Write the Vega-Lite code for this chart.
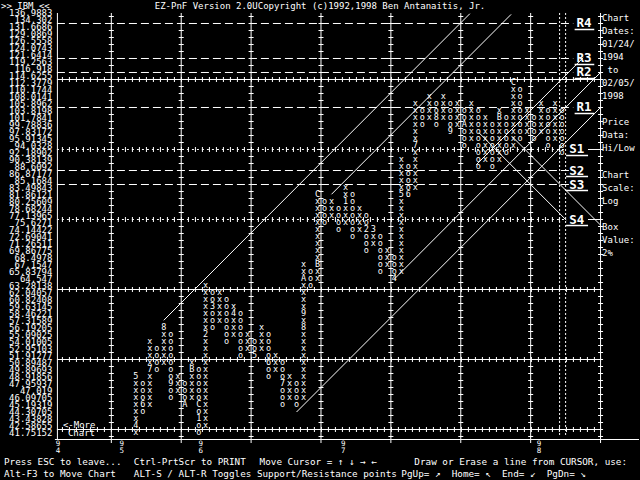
{
"$schema":"https://vega.github.io/schema/vega-lite/v6.json",
"width":640,"height":480,"padding":0,
"autosize":{"type":"fit","contains":"padding"},
"background":"#000000",
"config":{"view":{"stroke":null}},
"datasets":{
"cells":[
{"c":3,"b":0,"t":"x"},{"c":3,"b":1,"t":"4"},{"c":3,"b":2,"t":"x"},{"c":3,"b":3,"t":"x"},{"c":3,"b":4,"t":"x"},{"c":3,"b":5,"t":"x"},{"c":3,"b":6,"t":"x"},{"c":3,"b":7,"t":"x"},{"c":3,"b":8,"t":"5"},
{"c":4,"b":3,"t":"o"},{"c":4,"b":4,"t":"6"},{"c":4,"b":5,"t":"o"},{"c":4,"b":6,"t":"o"},{"c":4,"b":7,"t":"o"},
{"c":5,"b":4,"t":"x"},{"c":5,"b":5,"t":"x"},{"c":5,"b":6,"t":"x"},{"c":5,"b":7,"t":"x"},{"c":5,"b":8,"t":"x"},{"c":5,"b":9,"t":"7"},{"c":5,"b":10,"t":"x"},{"c":5,"b":11,"t":"x"},{"c":5,"b":12,"t":"x"},{"c":5,"b":13,"t":"x"},
{"c":6,"b":9,"t":"o"},{"c":6,"b":10,"t":"o"},{"c":6,"b":11,"t":"o"},{"c":6,"b":12,"t":"o"},
{"c":7,"b":10,"t":"x"},{"c":7,"b":11,"t":"x"},{"c":7,"b":12,"t":"x"},{"c":7,"b":13,"t":"x"},{"c":7,"b":14,"t":"x"},{"c":7,"b":15,"t":"8"},
{"c":8,"b":5,"t":"o"},{"c":8,"b":6,"t":"o"},{"c":8,"b":7,"t":"9"},{"c":8,"b":8,"t":"o"},{"c":8,"b":9,"t":"o"},{"c":8,"b":10,"t":"o"},{"c":8,"b":11,"t":"o"},{"c":8,"b":12,"t":"o"},{"c":8,"b":13,"t":"o"},{"c":8,"b":14,"t":"o"},
{"c":9,"b":6,"t":"x"},{"c":9,"b":7,"t":"x"},{"c":9,"b":8,"t":"x"},
{"c":10,"b":4,"t":"A"},{"c":10,"b":5,"t":"o"},{"c":10,"b":6,"t":"o"},{"c":10,"b":7,"t":"o"},
{"c":11,"b":5,"t":"x"},{"c":11,"b":6,"t":"x"},{"c":11,"b":7,"t":"x"},{"c":11,"b":8,"t":"x"},{"c":11,"b":9,"t":"B"},{"c":11,"b":10,"t":"x"},
{"c":12,"b":0,"t":"o"},{"c":12,"b":1,"t":"o"},{"c":12,"b":2,"t":"1"},{"c":12,"b":3,"t":"o"},{"c":12,"b":4,"t":"C"},{"c":12,"b":5,"t":"o"},{"c":12,"b":6,"t":"o"},{"c":12,"b":7,"t":"o"},{"c":12,"b":8,"t":"o"},{"c":12,"b":9,"t":"o"},
{"c":13,"b":1,"t":"x"},{"c":13,"b":2,"t":"x"},{"c":13,"b":3,"t":"x"},{"c":13,"b":4,"t":"x"},{"c":13,"b":5,"t":"x"},{"c":13,"b":6,"t":"x"},{"c":13,"b":7,"t":"x"},{"c":13,"b":8,"t":"x"},{"c":13,"b":9,"t":"x"},{"c":13,"b":10,"t":"x"},{"c":13,"b":11,"t":"x"},{"c":13,"b":12,"t":"x"},{"c":13,"b":13,"t":"x"},{"c":13,"b":14,"t":"2"},{"c":13,"b":15,"t":"x"},{"c":13,"b":16,"t":"x"},{"c":13,"b":17,"t":"x"},{"c":13,"b":18,"t":"x"},{"c":13,"b":19,"t":"x"},{"c":13,"b":20,"t":"x"},{"c":13,"b":21,"t":"x"},
{"c":14,"b":15,"t":"o"},{"c":14,"b":16,"t":"o"},{"c":14,"b":17,"t":"o"},{"c":14,"b":18,"t":"3"},{"c":14,"b":19,"t":"o"},{"c":14,"b":20,"t":"o"},
{"c":15,"b":16,"t":"x"},{"c":15,"b":17,"t":"x"},{"c":15,"b":18,"t":"x"},{"c":15,"b":19,"t":"x"},{"c":15,"b":20,"t":"x"},
{"c":16,"b":13,"t":"o"},{"c":16,"b":14,"t":"o"},{"c":16,"b":15,"t":"o"},{"c":16,"b":16,"t":"o"},{"c":16,"b":17,"t":"o"},{"c":16,"b":18,"t":"o"},{"c":16,"b":19,"t":"o"},
{"c":17,"b":14,"t":"x"},{"c":17,"b":15,"t":"x"},{"c":17,"b":16,"t":"x"},{"c":17,"b":17,"t":"4"},{"c":17,"b":18,"t":"x"},
{"c":18,"b":11,"t":"o"},{"c":18,"b":12,"t":"o"},{"c":18,"b":13,"t":"o"},{"c":18,"b":14,"t":"o"},{"c":18,"b":15,"t":"o"},{"c":18,"b":16,"t":"o"},{"c":18,"b":17,"t":"o"},
{"c":19,"b":12,"t":"x"},{"c":19,"b":13,"t":"x"},{"c":19,"b":14,"t":"x"},
{"c":20,"b":11,"t":"5"},{"c":20,"b":12,"t":"o"},{"c":20,"b":13,"t":"o"},
{"c":21,"b":12,"t":"x"},{"c":21,"b":13,"t":"x"},{"c":21,"b":14,"t":"x"},{"c":21,"b":15,"t":"x"},
{"c":22,"b":8,"t":"o"},{"c":22,"b":9,"t":"o"},{"c":22,"b":10,"t":"6"},{"c":22,"b":11,"t":"o"},{"c":22,"b":12,"t":"o"},{"c":22,"b":13,"t":"o"},{"c":22,"b":14,"t":"o"},
{"c":23,"b":9,"t":"x"},{"c":23,"b":10,"t":"x"},{"c":23,"b":11,"t":"x"},
{"c":24,"b":4,"t":"o"},{"c":24,"b":5,"t":"o"},{"c":24,"b":6,"t":"o"},{"c":24,"b":7,"t":"7"},{"c":24,"b":8,"t":"o"},{"c":24,"b":9,"t":"o"},{"c":24,"b":10,"t":"o"},
{"c":25,"b":5,"t":"x"},{"c":25,"b":6,"t":"x"},{"c":25,"b":7,"t":"x"},{"c":25,"b":8,"t":"x"},
{"c":26,"b":4,"t":"o"},{"c":26,"b":5,"t":"o"},{"c":26,"b":6,"t":"o"},{"c":26,"b":7,"t":"o"},
{"c":27,"b":5,"t":"x"},{"c":27,"b":6,"t":"x"},{"c":27,"b":7,"t":"x"},{"c":27,"b":8,"t":"x"},{"c":27,"b":9,"t":"x"},{"c":27,"b":10,"t":"x"},{"c":27,"b":11,"t":"x"},{"c":27,"b":12,"t":"x"},{"c":27,"b":13,"t":"x"},{"c":27,"b":14,"t":"x"},{"c":27,"b":15,"t":"8"},{"c":27,"b":16,"t":"x"},{"c":27,"b":17,"t":"9"},{"c":27,"b":18,"t":"x"},{"c":27,"b":19,"t":"x"},{"c":27,"b":20,"t":"x"},{"c":27,"b":21,"t":"x"},{"c":27,"b":22,"t":"A"},{"c":27,"b":23,"t":"x"},{"c":27,"b":24,"t":"x"},
{"c":28,"b":21,"t":"o"},{"c":28,"b":22,"t":"o"},{"c":28,"b":23,"t":"o"},
{"c":29,"b":22,"t":"x"},{"c":29,"b":23,"t":"x"},{"c":29,"b":24,"t":"B"},{"c":29,"b":25,"t":"x"},{"c":29,"b":26,"t":"x"},{"c":29,"b":27,"t":"x"},{"c":29,"b":28,"t":"x"},{"c":29,"b":29,"t":"x"},{"c":29,"b":30,"t":"x"},{"c":29,"b":31,"t":"x"},{"c":29,"b":32,"t":"x"},{"c":29,"b":33,"t":"x"},{"c":29,"b":34,"t":"C"},
{"c":30,"b":30,"t":"o"},{"c":30,"b":31,"t":"o"},{"c":30,"b":32,"t":"o"},{"c":30,"b":33,"t":"o"},
{"c":31,"b":31,"t":"x"},{"c":31,"b":32,"t":"x"},{"c":31,"b":33,"t":"x"},
{"c":32,"b":29,"t":"o"},{"c":32,"b":30,"t":"o"},{"c":32,"b":31,"t":"o"},{"c":32,"b":32,"t":"o"},
{"c":33,"b":30,"t":"x"},{"c":33,"b":31,"t":"x"},{"c":33,"b":32,"t":"x"},{"c":33,"b":33,"t":"1"},{"c":33,"b":34,"t":"x"},{"c":33,"b":35,"t":"x"},
{"c":34,"b":28,"t":"o"},{"c":34,"b":29,"t":"o"},{"c":34,"b":30,"t":"o"},{"c":34,"b":31,"t":"o"},{"c":34,"b":32,"t":"o"},{"c":34,"b":33,"t":"o"},{"c":34,"b":34,"t":"o"},
{"c":35,"b":29,"t":"x"},{"c":35,"b":30,"t":"x"},{"c":35,"b":31,"t":"x"},{"c":35,"b":32,"t":"x"},
{"c":36,"b":26,"t":"o"},{"c":36,"b":27,"t":"o"},{"c":36,"b":28,"t":"o"},{"c":36,"b":29,"t":"2"},{"c":36,"b":30,"t":"o"},{"c":36,"b":31,"t":"o"},
{"c":37,"b":27,"t":"x"},{"c":37,"b":28,"t":"x"},{"c":37,"b":29,"t":"3"},
{"c":38,"b":23,"t":"o"},{"c":38,"b":24,"t":"o"},{"c":38,"b":25,"t":"o"},{"c":38,"b":26,"t":"o"},{"c":38,"b":27,"t":"o"},{"c":38,"b":28,"t":"o"},
{"c":39,"b":24,"t":"x"},{"c":39,"b":25,"t":"x"},{"c":39,"b":26,"t":"x"},
{"c":40,"b":22,"t":"4"},{"c":40,"b":23,"t":"o"},{"c":40,"b":24,"t":"o"},{"c":40,"b":25,"t":"o"},
{"c":41,"b":23,"t":"x"},{"c":41,"b":24,"t":"x"},{"c":41,"b":25,"t":"x"},{"c":41,"b":26,"t":"x"},{"c":41,"b":27,"t":"x"},{"c":41,"b":28,"t":"x"},{"c":41,"b":29,"t":"x"},{"c":41,"b":30,"t":"x"},{"c":41,"b":31,"t":"x"},{"c":41,"b":32,"t":"x"},{"c":41,"b":33,"t":"x"},{"c":41,"b":34,"t":"5"},{"c":41,"b":35,"t":"x"},{"c":41,"b":36,"t":"x"},{"c":41,"b":37,"t":"x"},{"c":41,"b":38,"t":"x"},{"c":41,"b":39,"t":"x"},
{"c":42,"b":34,"t":"6"},{"c":42,"b":35,"t":"o"},{"c":42,"b":36,"t":"o"},{"c":42,"b":37,"t":"o"},{"c":42,"b":38,"t":"o"},
{"c":43,"b":35,"t":"x"},{"c":43,"b":36,"t":"x"},{"c":43,"b":37,"t":"x"},{"c":43,"b":38,"t":"x"},{"c":43,"b":39,"t":"x"},{"c":43,"b":40,"t":"x"},{"c":43,"b":41,"t":"7"},{"c":43,"b":42,"t":"x"},{"c":43,"b":43,"t":"x"},{"c":43,"b":44,"t":"x"},{"c":43,"b":45,"t":"x"},{"c":43,"b":46,"t":"x"},{"c":43,"b":47,"t":"x"},
{"c":44,"b":44,"t":"o"},{"c":44,"b":45,"t":"o"},{"c":44,"b":46,"t":"o"},
{"c":45,"b":45,"t":"x"},{"c":45,"b":46,"t":"x"},{"c":45,"b":47,"t":"x"},{"c":45,"b":48,"t":"x"},
{"c":46,"b":44,"t":"o"},{"c":46,"b":45,"t":"8"},{"c":46,"b":46,"t":"o"},{"c":46,"b":47,"t":"o"},
{"c":47,"b":45,"t":"x"},{"c":47,"b":46,"t":"x"},{"c":47,"b":47,"t":"x"},{"c":47,"b":48,"t":"x"},
{"c":48,"b":43,"t":"9"},{"c":48,"b":44,"t":"o"},{"c":48,"b":45,"t":"o"},{"c":48,"b":46,"t":"o"},{"c":48,"b":47,"t":"o"},
{"c":49,"b":44,"t":"x"},{"c":49,"b":45,"t":"x"},{"c":49,"b":46,"t":"x"},{"c":49,"b":47,"t":"x"},
{"c":50,"b":41,"t":"o"},{"c":50,"b":42,"t":"o"},{"c":50,"b":43,"t":"o"},{"c":50,"b":44,"t":"A"},{"c":50,"b":45,"t":"o"},{"c":50,"b":46,"t":"o"},
{"c":51,"b":42,"t":"x"},{"c":51,"b":43,"t":"x"},{"c":51,"b":44,"t":"x"},{"c":51,"b":45,"t":"x"},{"c":51,"b":46,"t":"x"},{"c":51,"b":47,"t":"x"},
{"c":52,"b":38,"t":"o"},{"c":52,"b":39,"t":"o"},{"c":52,"b":40,"t":"o"},{"c":52,"b":41,"t":"o"},{"c":52,"b":42,"t":"o"},{"c":52,"b":43,"t":"o"},{"c":52,"b":44,"t":"o"},{"c":52,"b":45,"t":"o"},{"c":52,"b":46,"t":"o"},
{"c":53,"b":39,"t":"x"},{"c":53,"b":40,"t":"x"},{"c":53,"b":41,"t":"x"},{"c":53,"b":42,"t":"x"},{"c":53,"b":43,"t":"x"},{"c":53,"b":44,"t":"x"},{"c":53,"b":45,"t":"x"},
{"c":54,"b":38,"t":"o"},{"c":54,"b":39,"t":"o"},{"c":54,"b":40,"t":"o"},{"c":54,"b":41,"t":"o"},{"c":54,"b":42,"t":"o"},{"c":54,"b":43,"t":"o"},{"c":54,"b":44,"t":"o"},
{"c":55,"b":39,"t":"x"},{"c":55,"b":40,"t":"x"},{"c":55,"b":41,"t":"x"},{"c":55,"b":42,"t":"x"},{"c":55,"b":43,"t":"x"},{"c":55,"b":44,"t":"x"},{"c":55,"b":45,"t":"B"},{"c":55,"b":46,"t":"x"},
{"c":56,"b":40,"t":"o"},{"c":56,"b":41,"t":"o"},{"c":56,"b":42,"t":"o"},{"c":56,"b":43,"t":"o"},{"c":56,"b":44,"t":"o"},{"c":56,"b":45,"t":"o"},
{"c":57,"b":41,"t":"x"},{"c":57,"b":42,"t":"x"},{"c":57,"b":43,"t":"x"},{"c":57,"b":44,"t":"x"},{"c":57,"b":45,"t":"x"},{"c":57,"b":46,"t":"x"},{"c":57,"b":47,"t":"x"},{"c":57,"b":48,"t":"x"},{"c":57,"b":49,"t":"x"},{"c":57,"b":50,"t":"C"},
{"c":58,"b":42,"t":"o"},{"c":58,"b":43,"t":"o"},{"c":58,"b":44,"t":"o"},{"c":58,"b":45,"t":"o"},{"c":58,"b":46,"t":"o"},{"c":58,"b":47,"t":"o"},{"c":58,"b":48,"t":"o"},{"c":58,"b":49,"t":"o"},
{"c":59,"b":43,"t":"x"},{"c":59,"b":44,"t":"x"},{"c":59,"b":45,"t":"x"},{"c":59,"b":46,"t":"x"},
{"c":60,"b":42,"t":"o"},{"c":60,"b":43,"t":"o"},{"c":60,"b":44,"t":"o"},{"c":60,"b":45,"t":"o"},
{"c":61,"b":43,"t":"x"},{"c":61,"b":44,"t":"x"},{"c":61,"b":45,"t":"x"},{"c":61,"b":46,"t":"x"},{"c":61,"b":47,"t":"x"},
{"c":62,"b":41,"t":"o"},{"c":62,"b":42,"t":"o"},{"c":62,"b":43,"t":"o"},{"c":62,"b":44,"t":"o"},{"c":62,"b":45,"t":"o"},{"c":62,"b":46,"t":"o"},
{"c":63,"b":42,"t":"x"},{"c":63,"b":43,"t":"x"},{"c":63,"b":44,"t":"x"},{"c":63,"b":45,"t":"x"},{"c":63,"b":46,"t":"x"},{"c":63,"b":47,"t":"x"},
{"c":64,"b":40,"t":"o"},{"c":64,"b":41,"t":"o"},{"c":64,"b":42,"t":"o"},{"c":64,"b":43,"t":"o"},{"c":64,"b":44,"t":"o"},{"c":64,"b":45,"t":"o"},{"c":64,"b":46,"t":"o"}
],
"labels":[
{"b":60,"t":"136.9883"},{"b":59,"t":"134.302"},{"b":58,"t":"131.6686"},{"b":57,"t":"129.0869"},{"b":56,"t":"126.5558"},{"b":55,"t":"124.0743"},{"b":54,"t":"121.6414"},{"b":53,"t":"119.2563"},{"b":52,"t":"116.918"},{"b":51,"t":"114.6255"},{"b":50,"t":"112.3779"},{"b":49,"t":"110.1744"},{"b":48,"t":"108.0141"},{"b":47,"t":"105.8962"},{"b":46,"t":"103.8198"},{"b":45,"t":"101.7841"},{"b":44,"t":"99.78836"},{"b":43,"t":"97.83172"},{"b":42,"t":"95.91345"},{"b":41,"t":"94.0328"},{"b":40,"t":"92.18902"},{"b":39,"t":"90.38139"},{"b":38,"t":"88.6092"},{"b":37,"t":"86.87177"},{"b":36,"t":"85.1684"},{"b":35,"t":"83.49843"},{"b":34,"t":"81.86121"},{"b":33,"t":"80.25609"},{"b":32,"t":"78.68244"},{"b":31,"t":"77.13965"},{"b":30,"t":"75.6271"},{"b":29,"t":"74.14422"},{"b":28,"t":"72.69041"},{"b":27,"t":"71.26511"},{"b":26,"t":"69.86775"},{"b":25,"t":"68.4978"},{"b":24,"t":"67.1547"},{"b":23,"t":"65.83794"},{"b":22,"t":"64.547"},{"b":21,"t":"63.28138"},{"b":20,"t":"62.04057"},{"b":19,"t":"60.82408"},{"b":18,"t":"59.63145"},{"b":17,"t":"58.46221"},{"b":16,"t":"57.31589"},{"b":15,"t":"56.19205"},{"b":14,"t":"55.09025"},{"b":13,"t":"54.01005"},{"b":12,"t":"52.95103"},{"b":11,"t":"51.91277"},{"b":10,"t":"50.89487"},{"b":9,"t":"49.89693"},{"b":8,"t":"48.91856"},{"b":7,"t":"47.95937"},{"b":6,"t":"47.019"},{"b":5,"t":"46.09705"},{"b":4,"t":"45.19319"},{"b":3,"t":"44.30705"},{"b":2,"t":"43.43828"},{"b":1,"t":"42.58655"},{"b":0,"t":"41.75152"}
],
"vgrid":[{"c":-0.5},{"c":9.5},{"c":19.5},{"c":29.5},{"c":39.5},{"c":49.5},{"c":59.5},{"c":69.5}],
"hgrid":[{"b":0.5},{"b":10.5},{"b":20.5},{"b":50.5}],
"sgrid":[{"b":30.5},{"b":40.5}],
"sr":[{"n":"R4","b":58.5,"k":"R"},{"n":"R3","b":53.5,"k":"R"},{"n":"R2","b":51.5,"k":"R"},{"n":"R1","b":46.5,"k":"R"},{"n":"S1","b":40.5,"k":"S"},{"n":"S2","b":37.5,"k":"S"},{"n":"S3","b":35.5,"k":"S"},{"n":"S4","b":30.5,"k":"S"}],
"trend":[{"c":7,"b":16.1,"c2":50.8,"b2":59.9},{"c":31,"b":34.1,"c2":56.7,"b2":59.8},{"c":26,"b":3,"c2":69.5,"b2":46.5},{"c":40,"b":22,"c2":69.5,"b2":51.5},{"c":51.7,"b":38.3,"c2":67,"b2":53.6},{"c":52.1,"b":42.9,"c2":64.6,"b2":30.4},{"c":56.9,"b":42.3,"c2":69.5,"b2":29.7}],
"years":[{"c":-8.14,"t":"9\n4"},{"c":1,"t":"9\n5"},{"c":12.3,"t":"9\n6"},{"c":32.7,"t":"9\n7"},{"c":60.7,"t":"9\n8"}],
"rdots":[{"c":63.64},{"c":64.5}],
"panel":[{"y":59.786,"t":"Chart\nDates:\n01/24/\n1994\n\u200b to\n02/05/\n1998"},{"y":44.93,"t":"Price\nData:\nHi/Low"},{"y":37.5,"t":"Chart\nScale:\nLog"},{"y":30.07,"t":"Box\nValue:\n2%"}]
},
"layer":[
{"data":{"name":"vgrid"},"mark":{"type":"rule","color":"#ffffff","strokeWidth":1},
 "encoding":{"x":{"field":"c","type":"quantitative","scale":{"domain":[-16.4286,75],"nice":false,"zero":false},"axis":null},
 "y":{"datum":60,"type":"quantitative","scale":{"domain":[-6.714,61.857],"nice":false,"zero":false},"axis":null},"y2":{"datum":-1.43}}},
{"data":{"name":"vgrid"},"mark":{"type":"rule","color":"#ffffff","strokeWidth":5,"strokeDash":[1,6]},
 "encoding":{"x":{"field":"c","type":"quantitative"},"y":{"datum":59.571,"type":"quantitative"},"y2":{"datum":-0.571}}},
{"data":{"name":"rdots"},"mark":{"type":"rule","color":"#ffffff","strokeWidth":1,"strokeDash":[2,2]},
 "encoding":{"x":{"field":"c","type":"quantitative"},"y":{"datum":60,"type":"quantitative"},"y2":{"datum":-0.571}}},
{"data":{"name":"hgrid"},"mark":{"type":"rule","color":"#ffffff","strokeWidth":1},
 "encoding":{"y":{"field":"b","type":"quantitative"},"x":{"datum":-8.286,"type":"quantitative"},"x2":{"datum":69.571}}},
{"data":{"name":"hgrid"},"mark":{"type":"rule","color":"#ffffff","strokeWidth":5,"strokeDash":[1,6]},
 "encoding":{"y":{"field":"b","type":"quantitative"},"x":{"datum":-7.571,"type":"quantitative"},"x2":{"datum":69.571}}},
{"data":{"name":"sgrid"},"mark":{"type":"rule","color":"#ffffff","strokeWidth":5,"strokeDash":[1,6]},
 "encoding":{"y":{"field":"b","type":"quantitative"},"x":{"datum":-7.571,"type":"quantitative"},"x2":{"datum":64.5}}},
{"data":{"name":"sgrid"},"mark":{"type":"rule","color":"#ffffff","strokeWidth":1,"strokeDash":[2,3]},
 "encoding":{"y":{"field":"b","type":"quantitative"},"x":{"datum":-8.286,"type":"quantitative"},"x2":{"datum":64.5}}},
{"data":{"name":"sgrid"},"mark":{"type":"rule","color":"#ffffff","strokeWidth":1},
 "encoding":{"y":{"field":"b","type":"quantitative"},"x":{"datum":67.7,"type":"quantitative"},"x2":{"datum":69.571}}},
{"data":{"values":[{}]},"mark":{"type":"rule","color":"#ffffff","strokeWidth":1},
 "encoding":{"x":{"datum":-8.214,"type":"quantitative"},"y":{"datum":60,"type":"quantitative"},"y2":{"datum":-0.93}}},
{"data":{"values":[{}]},"mark":{"type":"rule","color":"#ffffff","strokeWidth":1},
 "encoding":{"y":{"datum":-0.93,"type":"quantitative"},"x":{"datum":-8.571,"type":"quantitative"},"x2":{"datum":75}}},
{"data":{"name":"sr"},"transform":[{"filter":"datum.n!='S1' && datum.n!='S4'"}],"mark":{"type":"rule","color":"#ffffff","strokeWidth":1,"strokeDash":[8,4]},
 "encoding":{"y":{"field":"b","type":"quantitative"},"x":{"datum":-8.286,"type":"quantitative"},"x2":{"datum":65.6}}},
{"data":{"name":"trend"},"mark":{"type":"rule","color":"#ffffff","strokeWidth":1},
 "encoding":{"x":{"field":"c","type":"quantitative"},"y":{"field":"b","type":"quantitative"},"x2":{"field":"c2"},"y2":{"field":"b2"}}},
{"data":{"name":"cells"},"mark":{"type":"text","font":"DejaVu Sans Mono","fontSize":8.5,"color":"#ffffff","align":"center","baseline":"middle","dy":-1},
 "encoding":{"x":{"field":"c","type":"quantitative"},"y":{"field":"b","type":"quantitative"},"text":{"field":"t"}}},
{"data":{"name":"labels"},"mark":{"type":"text","font":"DejaVu Sans Mono","fontSize":9,"color":"#ffffff","align":"right","baseline":"middle"},
 "encoding":{"x":{"datum":-8.93,"type":"quantitative"},"y":{"field":"b","type":"quantitative"},"text":{"field":"t"}}},
{"data":{"name":"sr"},"transform":[{"filter":"datum.k=='R'"}],"mark":{"type":"text","font":"DejaVu Sans Mono","fontWeight":"bold","fontSize":12.5,"color":"#ffffff","align":"center","baseline":"middle"},
 "encoding":{"x":{"datum":67.14,"type":"quantitative"},"y":{"field":"b","type":"quantitative"},"text":{"field":"n"}}},
{"data":{"name":"sr"},"transform":[{"filter":"datum.k=='S'"}],"mark":{"type":"text","font":"DejaVu Sans Mono","fontWeight":"bold","fontSize":12.5,"color":"#ffffff","align":"center","baseline":"middle"},
 "encoding":{"x":{"datum":66.1,"type":"quantitative"},"y":{"field":"b","type":"quantitative"},"text":{"field":"n"}}},
{"data":{"name":"sr"},"transform":[{"filter":"datum.k=='R'"}],"mark":{"type":"rule","color":"#ffffff","strokeWidth":1.5,"yOffset":6},
 "encoding":{"y":{"field":"b","type":"quantitative"},"x":{"datum":65.79,"type":"quantitative"},"x2":{"datum":68.6}}},
{"data":{"name":"sr"},"transform":[{"filter":"datum.k=='S'"}],"mark":{"type":"rule","color":"#ffffff","strokeWidth":1.5,"yOffset":6},
 "encoding":{"y":{"field":"b","type":"quantitative"},"x":{"datum":64.57,"type":"quantitative"},"x2":{"datum":67.71}}},
{"data":{"name":"years"},"mark":{"type":"text","font":"DejaVu Sans Mono","fontSize":7.5,"lineHeight":7,"lineBreak":"\n","color":"#ffffff","align":"center","baseline":"top"},
 "encoding":{"x":{"field":"c","type":"quantitative"},"y":{"datum":-1.0,"type":"quantitative"},"text":{"field":"t"}}},
{"data":{"name":"panel"},"mark":{"type":"text","font":"DejaVu Sans Mono","fontSize":9,"lineHeight":13,"lineBreak":"\n","color":"#ffffff","align":"left","baseline":"top"},
 "encoding":{"x":{"datum":69.714,"type":"quantitative"},"y":{"field":"y","type":"quantitative"},"text":{"field":"t"}}},
{"data":{"values":[{}]},"mark":{"type":"text","font":"DejaVu Sans Mono","fontSize":9,"color":"#ffffff","align":"left","baseline":"middle"},
 "encoding":{"x":{"datum":-16.29,"type":"quantitative"},"y":{"datum":60.99,"type":"quantitative"},"text":{"value":">> IBM <<"}}},
{"data":{"values":[{}]},"mark":{"type":"text","font":"DejaVu Sans Mono","fontSize":9,"color":"#ffffff","align":"left","baseline":"middle"},
 "encoding":{"x":{"datum":5.714,"type":"quantitative"},"y":{"datum":60.99,"type":"quantitative"},"text":{"value":"EZ-PnF Version 2.0UCopyright (c)1992,1998 Ben Antanaitis, Jr."}}},
{"data":{"values":[{}]},"mark":{"type":"text","font":"DejaVu Sans Mono","fontSize":9,"color":"#ffffff","align":"left","baseline":"middle"},
 "encoding":{"x":{"datum":-7.43,"type":"quantitative"},"y":{"datum":1.21,"type":"quantitative"},"text":{"value":"<-More"}}},
{"data":{"values":[{}]},"mark":{"type":"text","font":"DejaVu Sans Mono","fontSize":9,"color":"#ffffff","align":"left","baseline":"middle"},
 "encoding":{"x":{"datum":-6.71,"type":"quantitative"},"y":{"datum":0,"type":"quantitative"},"text":{"value":"Chart"}}},
{"data":{"values":[{"x":-15.857,"t":"Press ESC to leave..."},{"x":2.714,"t":"Ctrl-PrtScr to PRINT"},{"x":20.714,"t":"Move Cursor = ↑ ↓ → ←"},{"x":42.857,"t":"Draw or Erase a line from CURSOR, use:"}]},
 "mark":{"type":"text","font":"DejaVu Sans Mono","fontSize":9.3,"color":"#ffffff","align":"left","baseline":"middle"},
 "encoding":{"x":{"field":"x","type":"quantitative"},"y":{"datum":-4.143,"type":"quantitative"},"text":{"field":"t"}}},
{"data":{"values":[{"x":-15.857,"t":"Alt-F3 to Move Chart"},{"x":2.714,"t":"ALT-S / ALT-R Toggles Support/Resistance points"},{"x":41,"t":"PgUp= ↗"},{"x":48.2,"t":"Home= ↖"},{"x":55.4,"t":"End= ↙"},{"x":61.8,"t":"PgDn= ↘"}]},
 "mark":{"type":"text","font":"DejaVu Sans Mono","fontSize":9.3,"color":"#ffffff","align":"left","baseline":"middle"},
 "encoding":{"x":{"field":"x","type":"quantitative"},"y":{"datum":-5.857,"type":"quantitative"},"text":{"field":"t"}}}
]
}
